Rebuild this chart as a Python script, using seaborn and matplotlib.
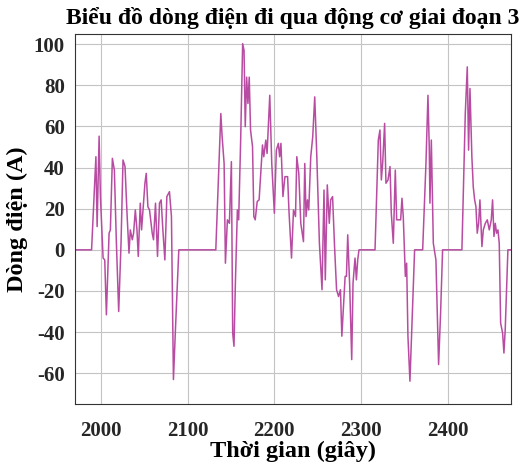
import matplotlib
matplotlib.use("Agg")
import matplotlib.pyplot as plt
import pandas as pd
import seaborn as sns


TITLE = "Biểu đồ dòng điện đi qua động cơ giai đoạn 3"
X_LABEL = "Thời gian (giây)"
Y_LABEL = "Dòng điện (A)"
X_TICKS = [2000, 2100, 2200, 2300, 2400]
Y_TICKS = [-60, -40, -20, 0, 20, 40, 60, 80, 100]

# samples
time_s = [
    1969, 1989, 1994, 1995.4, 1997.7, 1999.2, 2001.5, 2002.3, 2004.2, 2006.1,
    2009.2, 2010.7, 2013, 2015.3, 2017.6, 2020.3, 2023, 2025.3, 2027.6, 2029.9,
    2032.2, 2033.7, 2036, 2037.5, 2039.5, 2041.4, 2042.9, 2045.2, 2046.7, 2049,
    2050.6, 2052.1, 2054, 2055.9, 2059, 2060.5, 2062.8, 2065.1, 2067.4, 2069.3,
    2071.3, 2073.6, 2075.9, 2078.9, 2081.2, 2083.5, 2085.8, 2089.7,
    2132.4, 2138.2, 2139.7, 2142, 2143.5, 2145.8, 2148.1, 2150.4, 2151.9, 2153.4,
    2155, 2157.3, 2158.8, 2161.1, 2163.4, 2165, 2166.4, 2168, 2169.5, 2171,
    2172.5, 2174.8, 2176.3, 2177.9, 2180.2, 2182.4, 2184.7, 2186.3, 2187.8, 2190.1,
    2191.6, 2194.7, 2197, 2200, 2202.3, 2204.6, 2206.1, 2207.6, 2209.9, 2212.2,
    2215.3, 2216.8, 2219.8, 2222.1, 2224.4, 2225.9, 2228.2, 2230.5, 2233.6, 2235.1,
    2236.6, 2238.2, 2239.7, 2242, 2244.3, 2246.6, 2248.9, 2252, 2255, 2257.3,
    2258.8, 2261.1, 2263.4, 2265, 2267.2, 2269.5, 2271.8, 2274.1, 2276.3, 2277.9,
    2279.4, 2281.7, 2283.2, 2284.7, 2287, 2289.3, 2290.8, 2293.1, 2294.7, 2296.2,
    2297.7,
    2316.2, 2320, 2321.9, 2323.5, 2325, 2327.3, 2328.8, 2331.2, 2333.5, 2335,
    2337.3, 2339.6, 2341.2, 2343.5, 2345.8, 2347.3, 2348.8, 2351.2, 2352.7, 2354.2,
    2356.5, 2358.8, 2361.9,
    2371.2, 2375, 2377.3, 2378.8, 2379.6, 2381.2, 2383.5, 2386.5, 2389.6, 2391.9,
    2394.2,
    2416.5, 2420.4, 2422.7, 2424.2, 2425.8, 2428, 2429.6, 2431.2, 2432.7, 2434.2,
    2435.8, 2437.3, 2439.6, 2441.2, 2443.5, 2445.8, 2448.1, 2450.4, 2451.9, 2453.5,
    2455, 2456.5, 2458.1, 2459.6, 2461.2, 2463.5, 2465, 2466.5, 2468.1, 2469.6,
    2474,
]
current_a = [
    0, 0, 45.3, 11.3, 55.3, 25.9, 3.2, -4, -4.9, -31.6,
    8.1, 9.7, 44.5, 38.8, 4, -30, 3.2, 43.7, 40.5, 17.8,
    -1.6, 9.7, 4.9, 8.1, 19.4, 9.7, -3.2, 22.7, 9.7, 22.7,
    32.4, 37.2, 21, 19.4, 8.1, 4.9, 22.7, -3.2, 22.7, 24.3,
    9.7, -4.9, 25.9, 28.3, 16.2, -63.1, -38.8, 0,
    0, 66.3, 55, 42, -6.5, 14.6, 12.9, 42.9, -40.5, -46.9,
    -16.2, 19.4, 14.6, 53.4, 100.3, 97, 59.9, 84, 71.2, 84,
    58.3, 50.2, 16.2, 14.6, 23.5, 24.3, 40.5, 51, 45.3, 53.4,
    46.9, 75.2, 42, 17.8, 48.5, 51.8, 45.3, 51.8, 25.9, 35.6,
    35.6, 19.4, -4, 19.4, 16.2, 45.3, 37.2, 12.9, 4, 42,
    16.2, 24.3, 19.4, 45.3, 55, 74.4, 46.9, 3.2, -19.4, 29.1,
    -14.6, 31.6, 12.9, 24.3, 25.9, 1.6, -19.4, -22.7, -19.4, -42,
    -30.7, -12.9, -12.9, 7.3, -17.8, -53.4, -16.2, -4, -14.6, -4.9,
    0,
    0, 53.4, 58.3, 34, 42, 61.5, 32.4, 34, 40.5, 17.8,
    3.2, 38.8, 14.6, 14.6, 14.6, 25.1, 16.2, -12.9, -6.5, -42,
    -63.9, -37.2, 0,
    0, 42, 75.2, 50.2, 22.7, 53.4, 3.2, -4.9, -55.8, -30.7,
    0,
    0, 66.3, 89, 48.5, 78.5, 45.3, 30.7, 24.3, 21, 8.1,
    12.9, 24.3, 1.6, 9.7, 12.9, 14.6, 9.7, 14.6, 24.3, 6.5,
    12.9, 8.1, 9.7, 3.2, -35.6, -40.5, -50.2, -38.8, -19.4, 0,
    0,
]

LINE_COLOR = "#b84ca2"
TEXT_COLOR = "#262626"


def main():
    df = pd.DataFrame({"time": time_s, "current": current_a})

    sns.set_theme(style="whitegrid")
    plt.rcParams["font.family"] = ["Liberation Serif", "DejaVu Serif"]
    plt.rcParams["font.weight"] = "bold"
    plt.rcParams["axes.unicode_minus"] = False

    fig = plt.figure(figsize=(5.23, 4.67), dpi=100)
    ax = fig.add_axes([0.1428, 0.1349, 0.8348, 0.7923])

    sns.lineplot(data=df, x="time", y="current", sort=False, ax=ax,
                 color=LINE_COLOR, linewidth=1.1)

    ax.set_xlim(1969.5, 2473.5)
    ax.set_ylim(-75, 105)
    ax.set_xticks(X_TICKS)
    ax.set_yticks(Y_TICKS)
    ax.grid(True, color="#c4c4c4", linewidth=0.8)
    ax.set_facecolor("white")
    for spine in ax.spines.values():
        spine.set_color("#333333")
        spine.set_linewidth(0.8)
    ax.tick_params(axis="x", length=0, labelsize=15, colors=TEXT_COLOR, pad=12)
    ax.tick_params(axis="y", length=0, labelsize=15, colors=TEXT_COLOR, pad=7)
    for lab in ax.get_xticklabels() + ax.get_yticklabels():
        lab.set_fontweight("bold")

    ax.set_title(TITLE, fontsize=17, fontweight="bold", color="black", pad=7)
    ax.set_xlabel(X_LABEL, fontsize=17.5, fontweight="bold", color="black",
                  labelpad=0)
    ax.set_ylabel(Y_LABEL, fontsize=17.5, fontweight="bold", color="black",
                  labelpad=4)

    fig.savefig("out.png", dpi=100, facecolor="white")
    plt.close(fig)


if __name__ == "__main__":
    main()
